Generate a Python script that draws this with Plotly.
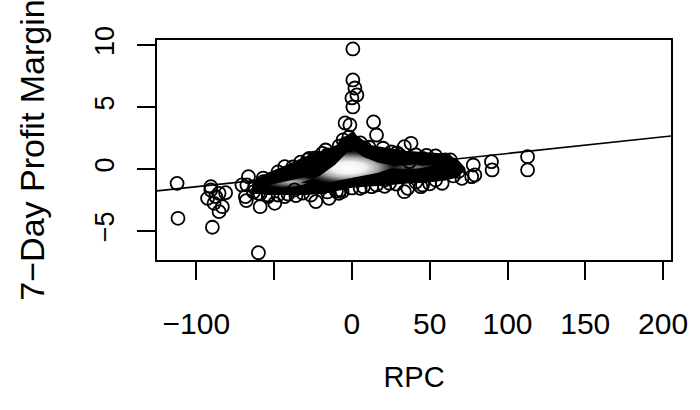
import plotly.graph_objects as go

# ---- data ----
rpc_points = [0.6, 0.6, 1.9, 3.2, 0.0, 0.6, -4.4, -1.3, 13.9, 15.8, -1.9, -5.7, -16.9, 38.0, 33.7, 20.0,
              -28.5, -24.2, -43.2, -112.4, -111.8, -89.7, -60.1,
              -90.7, -85.4, -81.2, -92.8, -88.6, -83.3, -85.4, -90.7, -87.5,
              -67.5, -67.9, -59.0, -49.6, -62.2, -57.0, -60.1, -53.8, -43.2, -47.5, -23.2, -14.7,
              -36.9, -7.4, 7.4, 12.7, 21.1, 33.7, 45.4, 30.6, 37.0,
              112.9, 112.9, 89.7, 90.1, 78.0, 79.0, 77.0, 68.5, 70.7, 60.0, 62.0, 45.4,
              -27.4, -66.5, -70.7, -68.5, -26.4, -8.4, 35.9, 44.3, 58.0, -6.3, 5.3, 24.2,
              -57.0, -47.5, -38.0, -23.4, -15.8, -8.2, 8.2, 25.3, 41.1, 53.8, 63.3,
              -63.3, -53.8, -41.1, -31.6, -15.8, 0.0, 15.8, 28.5, 41.1, 53.8, 65.2,
              -33.0, -19.0, -4.0, 5.5, 11.0, 29.0, 48.0, -59.0, -36.0, -10.0, 21.0, 50.0]
margin_points = [9.68, 7.18, 6.53, 5.97, 5.73, 5.0, 3.71, 3.55, 3.79, 2.74, 2.58, 2.34, 1.53, 2.07, 1.8, 1.67,
                 0.73, 0.86, 0.19, -1.16, -3.98, -4.7, -6.75,
                 -1.43, -1.96, -1.91, -2.37, -2.77, -3.04, -3.44, -1.69, -2.23,
                 -1.29, -2.55, -3.04, -2.77, -1.43, -1.02, -1.96, -2.23, -2.23, -2.1, -2.63, -2.37,
                 -1.69, -1.69, -1.43, -1.43, -0.89, -1.83, -1.29, 1.13, 0.59,
                 0.99, -0.08, 0.59, -0.08, 0.32, -0.48, -0.62, -0.21, -0.75, 0.73, 0.19, 0.86,
                 0.86, -0.62, -1.29, -2.23, -2.1, -1.96, -1.56, -1.43, -1.15, -1.83, -1.56, -1.15,
                 -0.73, -0.24, 0.16, 0.89, 1.13, 1.85, 1.69, 1.37, 1.13, 1.05, 0.73,
                 -1.85, -2.10, -2.02, -1.94, -1.85, -1.53, -1.29, -1.21, -1.05, -0.89, -0.56,
                 0.55, 1.25, 2.05, 2.10, 1.75, 1.30, 1.10, -2.00, -2.15, -1.80, -1.40, -1.20]

# dense band of overlapping points (outline)
band_rpc = [-63.5, -61.4, -53.8, -44.3, -30.4, -19.0, -9.5, -4.4, 0.0, 4.4, 10.8, 22.2, 34.8, 47.5, 60.1, 67.7, 71.5]
band_upper = [-1.35, -0.95, -0.42, 0.06, 0.86, 1.35, 1.83, 2.45, 2.85, 2.45, 1.83, 1.59, 1.35, 1.22, 1.12, 0.62, 0.10]
band_lower = [-1.60, -1.85, -1.98, -1.98, -1.98, -1.90, -1.65, -1.52, -1.40, -1.36, -1.30, -1.22, -1.06, -0.98, -0.80, -0.55, -0.05]

# light core of the densest region
core_rpc = [-33.0, -21.0, -11.0, -3.2, 1.9, 7.0, 17.0, 29.0, 17.0, 3.2, -9.5, -21.0]
core_margin = [-1.12, -0.58, 0.32, 1.32, 1.48, 0.98, 0.50, 0.22, -0.30, -0.62, -0.95, -1.28]
left_streak_rpc = [-56.5, -41.1, -27.2, -20.9, -31.6, -44.3]
left_streak_margin = [-1.40, -0.97, -0.56, -0.73, -1.29, -1.55]
right_streak_rpc = [23.4, 41.1, 55.0, 41.1, 25.3]
right_streak_margin = [0.18, 0.42, 0.32, 0.0, -0.10]

# fitted line (intercept, slope)
fit_intercept = -0.09
fit_slope = 0.0134

x_range = [-125.3, 205.1]
y_range = [-7.34, 10.40]
x_tickvals = [-100, -50, 0, 50, 100, 150, 200]
x_ticktext = ["\u2212100", "", "0", "50", "100", "150", "200"]
y_tickvals = [-5, 0, 5, 10]
y_ticktext = ["\u22125", "0", "5", "10"]

FONT = "Liberation Sans, Arial, Helvetica, sans-serif"

fig = go.Figure()

# regression line across the plot region (drawn underneath the point cloud)
line_x = [x_range[0], x_range[1]]
line_y = [fit_intercept + fit_slope * v for v in line_x]
fig.add_trace(go.Scatter(x=line_x, y=line_y, mode="lines",
                         line=dict(color="black", width=1.6), hoverinfo="skip", showlegend=False))

# black band
fig.add_trace(go.Scatter(
    x=band_rpc + band_rpc[::-1], y=band_upper + band_lower[::-1],
    mode="lines", fill="toself", fillcolor="black",
    line=dict(color="black", width=3), hoverinfo="skip", showlegend=False))

# gradient cores
fig.add_trace(go.Scatter(
    x=left_streak_rpc, y=left_streak_margin, mode="lines", fill="toself",
    line=dict(width=0, color="rgba(0,0,0,0)"),
    fillgradient=dict(type="radial", colorscale=[[0, "#c0c0c0"], [0.5, "#686868"], [1, "#000000"]]),
    hoverinfo="skip", showlegend=False))
fig.add_trace(go.Scatter(
    x=right_streak_rpc, y=right_streak_margin, mode="lines", fill="toself",
    line=dict(width=0, color="rgba(0,0,0,0)"),
    fillgradient=dict(type="radial", colorscale=[[0, "#9a9a9a"], [0.5, "#444444"], [1, "#000000"]]),
    hoverinfo="skip", showlegend=False))
fig.add_trace(go.Scatter(
    x=core_rpc, y=core_margin, mode="lines", fill="toself",
    line=dict(width=0, color="rgba(0,0,0,0)"),
    fillgradient=dict(type="radial", colorscale=[[0, "#ffffff"], [0.35, "#f0f0f0"], [0.6, "#a8a8a8"],
                                                   [0.85, "#303030"], [1, "#000000"]]),
    hoverinfo="skip", showlegend=False))

# individual points
fig.add_trace(go.Scatter(
    x=rpc_points, y=margin_points, mode="markers",
    marker=dict(symbol="circle-open", size=13, color="black", line=dict(width=1.8, color="black")),
    showlegend=False))

fig.update_layout(
    width=700, height=410,
    margin=dict(l=157, r=21, t=40, b=150),
    paper_bgcolor="white", plot_bgcolor="white",
    font=dict(family=FONT, color="black", size=27),
    showlegend=False,
)
fig.update_xaxes(
    range=x_range, tickvals=x_tickvals, ticktext=x_ticktext,
    showgrid=False, zeroline=False, showline=True, mirror=True, linecolor="black", linewidth=1.5,
    ticks="outside", ticklen=18, tickwidth=1.5, tickcolor="black",
    tickfont=dict(size=30, family=FONT), ticklabelstandoff=18,
    title=dict(text="RPC", font=dict(size=29, family=FONT), standoff=28),
)
fig.update_yaxes(
    range=y_range, tickvals=y_tickvals, ticktext=y_ticktext, tickangle=-90,
    showgrid=False, zeroline=False, showline=True, mirror=True, linecolor="black", linewidth=1.5,
    ticks="outside", ticklen=18, tickwidth=1.5, tickcolor="black",
    tickfont=dict(size=27, family=FONT), ticklabelstandoff=12,
    title=dict(text="7\u2212Day Profit Margin", font=dict(size=34, family=FONT), standoff=36),
)

fig.write_html("out.html")
